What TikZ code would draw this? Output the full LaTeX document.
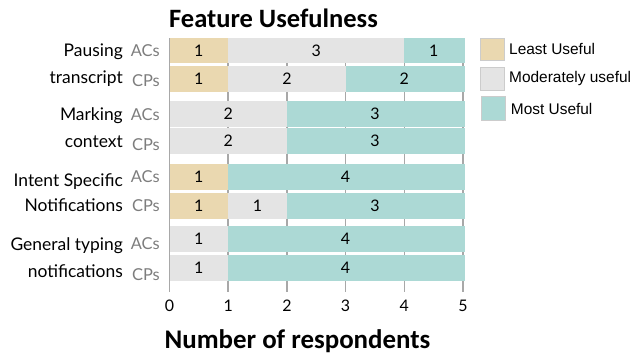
\documentclass[tikz,border=0pt]{standalone}
\usepackage{fontspec}
\setmainfont{Lato}
\newfontfamily\titlefont{Carlito}
\newfontfamily\legfont{Liberation Sans}
\definecolor{ltan}{RGB}{234,216,176}
\definecolor{lgray}{RGB}{228,228,228}
\definecolor{lteal}{RGB}{172,217,213}
\definecolor{gridc}{RGB}{168,168,168}
\definecolor{subc}{RGB}{125,125,125}
\tikzset{
  grp/.style={anchor=base east,font=\fontsize{17.5}{20}\selectfont,inner sep=0pt},
  sub/.style={anchor=base east,font=\fontsize{16.5}{20}\selectfont,text=subc,inner sep=0pt},
  num/.style={font=\fontsize{16}{18}\selectfont,inner sep=0pt},
  tick/.style={anchor=base,font=\fontsize{16}{18}\selectfont,inner sep=0pt},
  leg/.style={anchor=west,font=\legfont\fontsize{15.5}{18}\selectfont,inner sep=0pt},
  sw/.style={draw=white!80!black,line width=0.6bp},
}
\newcommand\mybar[5]{%
  \pgfmathsetmacro\xa{169.5+58.7*#3}%
  \pgfmathsetmacro\xb{\xa+58.7*#4}%
  \pgfmathsetmacro\xc{\xb+58.7*#5}%
  \ifnum#3>0 \fill[ltan] (169.5,#1) rectangle (\xa,#2);
    \node[num] at ({(169.5+\xa)/2},{(#1+#2)/2}) {#3};\fi
  \ifnum#4>0 \fill[lgray] (\xa,#1) rectangle (\xb,#2);
    \node[num] at ({(\xa+\xb)/2},{(#1+#2)/2}) {#4};\fi
  \ifnum#5>0 \fill[lteal] (\xb,#1) rectangle ({\xc+2},#2);
    \node[num] at ({(\xb+\xc)/2},{(#1+#2)/2}) {#5};\fi
}
\begin{document}
\begin{tikzpicture}[x=1bp,y=-1bp]
\useasboundingbox (0,0) rectangle (636,358);
% grid
\foreach \k in {1,...,5}{
  \draw[gridc,line width=1.5bp] ({169.5+58.7*\k},38) -- ({169.5+58.7*\k},292);
}
\mybar{38}{63.3}{1}{3}{1}
\mybar{66}{91.7}{1}{2}{2}
\mybar{101}{127}{0}{2}{3}
\mybar{128}{153.7}{0}{2}{3}
\mybar{164}{190}{1}{0}{4}
\mybar{192.7}{218.7}{1}{1}{3}
\mybar{226}{251.7}{0}{1}{4}
\mybar{255}{280.7}{0}{1}{4}
% axis
\draw[gridc,line width=1.5bp] (169.5,38) -- (169.5,292);
% tick labels
\foreach \k in {0,...,5}{
  \node[tick] (t\k) at ({169.5+58.7*\k},311.7) {\k};
}
% group labels
\node[grp] (g1a) at (123,56.7) {Pausing};
\node[grp] (g1b) at (123,83.3) {transcript};
\node[grp] (g2a) at (123,120.7) {Marking};
\node[grp] (g2b) at (123,147.3) {context};
\node[grp] (g3a) at (123,186) {Intent Specific};
\node[grp] (g3b) at (123,211.7) {Notifications};
\node[grp] (g4a) at (123,250.7) {General typing};
\node[grp] (g4b) at (123,277.3) {notifications};
\node[sub] (s1a) at (160,56.7) {ACs};
\node[sub] (s1b) at (160,86) {CPs};
\node[sub] (s2a) at (160,120.7) {ACs};
\node[sub] (s2b) at (160,150) {CPs};
\node[sub] (s3a) at (160,182) {ACs};
\node[sub] (s3b) at (160,211.7) {CPs};
\node[sub] (s4a) at (160,249.3) {ACs};
\node[sub] (s4b) at (160,280) {CPs};
% titles
\node[anchor=base,inner sep=0pt,font=\titlefont\bfseries\fontsize{26.6}{28}\selectfont] (title) at (273.5,27) {Feature Usefulness};
\node[anchor=base,inner sep=0pt,font=\titlefont\bfseries\fontsize{27}{28}\selectfont] (xlab) at (297.5,348) {Number of respondents};
% legend
\filldraw[fill=ltan,sw] (480,38) rectangle (504,60.7);
\filldraw[fill=lgray,sw] (480,67) rectangle (504,90.7);
\filldraw[fill=lteal,sw] (481,96.7) rectangle (505,120);
\node[leg] (l1) at (509,49) {Least Useful};
\node[leg] (l2) at (509,79) {Moderately useful};
\node[leg] (l3) at (510.7,109) {Most Useful};
\end{tikzpicture}
\end{document}
